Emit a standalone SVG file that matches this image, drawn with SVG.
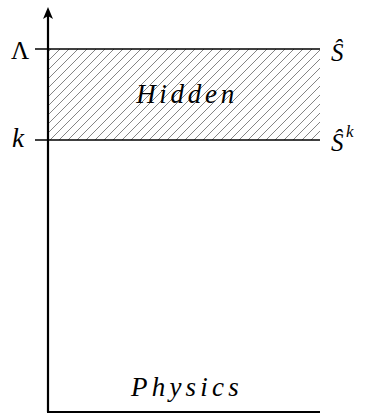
<svg xmlns="http://www.w3.org/2000/svg" width="365" height="414" viewBox="0 0 365 414">
<rect width="365" height="414" fill="#fff"/>
<path stroke="#777" stroke-width="0.9" fill="none" d="M48 52L51 49M48 61L60 49M48 70L69 49M48 79L78 49M48 88L87 49M48 97L96 49M48 106L105 49M48 115L114 49M48 124L123 49M48 133L132 49M50 140L141 49M59 140L150 49M68 140L159 49M77 140L168 49M86 140L177 49M95 140L186 49M104 140L195 49M113 140L204 49M122 140L213 49M131 140L222 49M140 140L231 49M149 140L240 49M158 140L249 49M167 140L258 49M176 140L267 49M185 140L276 49M194 140L285 49M203 140L294 49M212 140L303 49M221 140L312 49M230 140L320 50M239 140L320 59M248 140L320 68M257 140L320 77M266 140L320 86M275 140L320 95M284 140L320 104M293 140L320 113M302 140L320 122M311 140L320 131"/>
<line stroke="#000" stroke-width="1.5" x1="35" y1="49" x2="320" y2="49"/>
<line stroke="#000" stroke-width="1.5" x1="35" y1="140" x2="320" y2="140"/>
<line stroke="#000" stroke-width="2.2" x1="48" y1="14" x2="48" y2="412"/>
<line stroke="#000" stroke-width="2.2" x1="47" y1="412" x2="320" y2="412"/>
<path d="M48,7 L53,19 L48,16 L43,19 Z" fill="#000"/>
<text x="187" y="103" font-size="27" font-family="Liberation Serif, serif" font-style="italic" text-anchor="middle" letter-spacing="3.7">Hidden</text>
<text x="11" y="59" font-size="25" font-family="Liberation Serif, serif">&#923;</text>
<text x="12" y="147" font-size="27" font-family="Liberation Serif, serif" font-style="italic">k</text>
<text x="331" y="61" font-size="25" font-family="Liberation Serif, serif" font-style="italic">&#348;</text>
<text x="331" y="151" font-size="25" font-family="Liberation Serif, serif" font-style="italic">&#348;</text>
<text x="346" y="137" font-size="17" font-family="Liberation Serif, serif" font-style="italic">k</text>
<text x="187" y="396" font-size="27" font-family="Liberation Serif, serif" font-style="italic" text-anchor="middle" letter-spacing="4.2">Physics</text>
</svg>
